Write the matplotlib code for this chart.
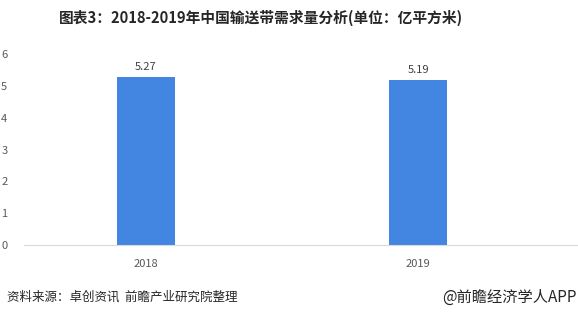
import matplotlib.pyplot as plt

plt.rcParams['font.family'] = ['Noto Sans CJK SC', 'DejaVu Sans']

years = ['2018', '2019']
demand = [5.27, 5.19]
yticks = [0, 1, 2, 3, 4, 5, 6]

fig = plt.figure(figsize=(5.78, 3.15), dpi=100)
ax = fig.add_axes([24 / 578, 70 / 315, 554 / 578, 191 / 315])

x = range(len(years))
ax.bar(x, demand, width=0.21, color='#4286E2', zorder=2)
for xi, v in zip(x, demand):
    ax.text(xi, v + 0.15, f'{v:.2f}', ha='center', va='bottom', fontsize=8, color='#404040')

ax.set_xlim(-0.4485, 1.588)
ax.set_ylim(0, 6)
ax.set_yticks(yticks)
ax.set_xticks(list(x))
ax.set_xticklabels(years)
ax.tick_params(axis='both', length=0, labelsize=8, colors='#595959')
ax.tick_params(axis='x', pad=10)
ax.tick_params(axis='y', pad=12)
for s in ['top', 'right', 'left']:
    ax.spines[s].set_visible(False)
ax.spines['bottom'].set_color('#d9d9d9')

fig.text(261 / 578, 1 - 18 / 315, '图表3：2018-2019年中国输送带需求量分析(单位：亿平方米)',
         ha='center', va='center', fontsize=10.6, fontweight='bold', color='#262626')
fig.text(7 / 578, 1 - 297 / 315, '资料来源：卓创资讯  前瞻产业研究院整理',
         ha='left', va='center', fontsize=9, color='#262626')
fig.text(577 / 578, 1 - 297 / 315, '@前瞻经济学人APP',
         ha='right', va='center', fontsize=11, color='#262626')

fig.savefig('out.png', dpi=100)
